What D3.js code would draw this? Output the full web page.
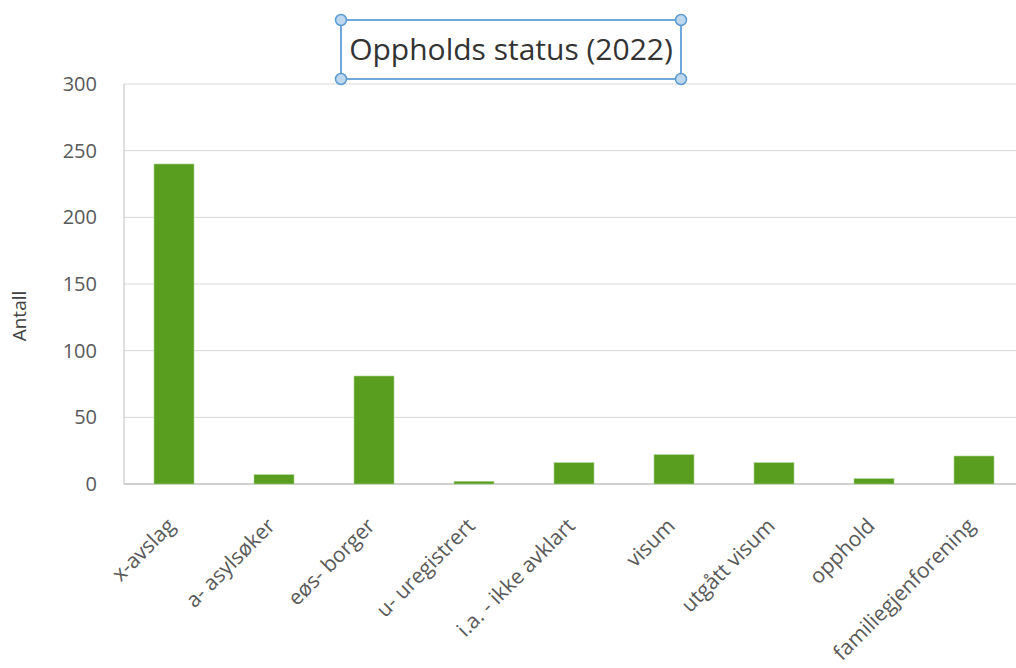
<!DOCTYPE html>
<html>
<head>
<meta charset="UTF-8">
<title>Oppholds status (2022)</title>
<script src="https://d3js.org/d3.v7.min.js"></script>
<style>
  body { margin: 0; background: #fff; }
  text { font-family: "Open Sans", "Noto Sans", sans-serif; fill: #595959; }
</style>
</head>
<body>
<svg id="chart" width="1016" height="668"></svg>
<script>
// data
const categories = ["x-avslag", "a- asylsøker", "eøs- borger", "u- uregistrert", "i.a. - ikke avklart",
                    "visum", "utgått visum", "opphold", "familiegjenforening"];
const values = [240, 7, 81, 2, 16, 22, 16, 4, 21];
const yTicks = [0, 50, 100, 150, 200, 250, 300];

const svg = d3.select("#chart");
const plotLeft = 124, plotTop = 84, plotBottom = 484, plotRight = 1024;

const x = d3.scaleBand().domain(categories).range([plotLeft, plotRight]).paddingInner(0.6).paddingOuter(0.3);
const y = d3.scaleLinear().domain([0, 300]).range([plotBottom, plotTop]);

// gridlines
svg.append("g").selectAll("line")
  .data(yTicks.filter(d => d > 0))
  .join("line")
  .attr("x1", plotLeft).attr("x2", plotRight)
  .attr("y1", d => y(d)).attr("y2", d => y(d))
  .attr("stroke", "#d9d9d9").attr("stroke-width", 1);

// axis lines
svg.append("line").attr("x1", plotLeft).attr("x2", plotLeft).attr("y1", plotTop).attr("y2", plotBottom)
  .attr("stroke", "#bfbfbf");
svg.append("line").attr("x1", plotLeft).attr("x2", plotRight).attr("y1", plotBottom).attr("y2", plotBottom)
  .attr("stroke", "#bfbfbf").attr("stroke-width", 1.5);

// y tick labels
svg.append("g").selectAll("text")
  .data(yTicks)
  .join("text")
  .attr("x", 97).attr("y", d => y(d))
  .attr("dy", "0.35em")
  .attr("text-anchor", "end")
  .style("font-size", "20px")
  .text(d => d);

// bars
svg.append("g").selectAll("rect")
  .data(values)
  .join("rect")
  .attr("x", (d, i) => x(categories[i]))
  .attr("width", x.bandwidth())
  .attr("y", d => y(d))
  .attr("height", d => plotBottom - y(d))
  .attr("fill", "#5a9e1f")
  .attr("stroke", "#a9d18e").attr("stroke-width", 0.6);

// x labels
svg.append("g").selectAll("text")
  .data(categories)
  .join("text")
  .attr("text-anchor", "end")
  .attr("transform", d => `translate(${x(d) + x.bandwidth() / 2 - 3},${plotBottom + 38}) rotate(-45)`)
  .attr("dy", "0.35em")
  .style("font-size", "21px")
  .text(d => d);

// y axis title
svg.append("text")
  .attr("transform", "translate(19,316) rotate(-90)")
  .attr("text-anchor", "middle")
  .attr("dy", "0.35em")
  .style("font-size", "19px")
  .style("fill", "#404040")
  .text("Antall");

// title with selection frame
svg.append("rect").attr("x", 341).attr("y", 20).attr("width", 340).attr("height", 59)
  .attr("fill", "none").attr("stroke", "#6fa8dc").attr("stroke-width", 2);
svg.append("text")
  .attr("x", 511).attr("y", 49)
  .attr("text-anchor", "middle").attr("dy", "0.35em")
  .style("font-size", "30px").style("fill", "#333")
  .text("Oppholds status (2022)");
svg.append("g").selectAll("circle")
  .data([[341, 20], [681, 20], [341, 79], [681, 79]])
  .join("circle")
  .attr("cx", d => d[0]).attr("cy", d => d[1]).attr("r", 5.5)
  .attr("fill", "#bdd7ee").attr("stroke", "#5b9bd5").attr("stroke-width", 1.5);
</script>
</body>
</html>
